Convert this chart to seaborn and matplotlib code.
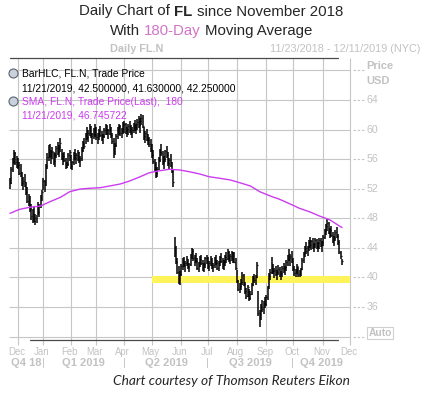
import matplotlib
matplotlib.use("Agg")
import matplotlib.pyplot as plt
from matplotlib.lines import Line2D
import numpy as np
import pandas as pd
import seaborn as sns

# NYSE closed days inside the chart window
holidays = ['2018-12-05', '2018-12-25', '2019-01-01', '2019-01-21', '2019-02-18',
            '2019-04-19', '2019-05-27', '2019-07-04', '2019-09-02', '2019-11-28']

# daily bars as (high, low, close), one list per month
bars_nov18 = [(53.5, 52.0, 52.8), (55.0, 52.6, 54.6), (56.2, 54.2, 55.9), (57.2, 55.4, 56.8),
              (56.9, 55.2, 55.6), (56.4, 54.8, 56.0)]
bars_dec18 = [(56.2, 54.6, 55.2), (55.6, 53.8, 54.1), (55.4, 53.6, 53.9), (54.2, 52.4, 52.8),
              (53.6, 51.8, 53.1), (54.0, 52.2, 52.5), (52.9, 51.2, 51.6), (52.2, 50.1, 50.4),
              (51.3, 49.6, 50.9), (51.0, 48.8, 49.2), (49.9, 47.8, 48.3), (49.2, 47.3, 48.6),
              (49.6, 47.5, 47.7), (48.6, 47.1, 48.1), (48.4, 47.4, 48.0), (50.2, 48.5, 48.9),
              (49.9, 48.2, 49.7), (51.2, 49.4, 50.8), (51.8, 50.4, 51.5)]
bars_jan19 = [(53.4, 51.8, 53.1), (53.2, 51.6, 52.0), (55.4, 52.4, 55.1), (56.8, 54.6, 56.3),
              (57.9, 55.8, 57.4), (58.0, 56.2, 56.6), (57.2, 55.4, 56.9), (57.6, 56.0, 57.1),
              (56.9, 55.2, 55.7), (56.8, 55.0, 56.5), (57.8, 56.1, 57.5), (58.3, 56.6, 57.0),
              (57.9, 56.3, 57.6), (58.8, 57.0, 58.2), (57.4, 55.9, 56.2), (56.8, 55.2, 56.4),
              (57.0, 55.6, 55.9), (56.1, 54.6, 55.0), (55.6, 54.8, 55.4), (56.8, 55.1, 56.5),
              (57.2, 55.8, 56.9)]
bars_feb19 = [(56.6, 54.6, 55.1), (55.8, 54.5, 55.6), (56.9, 55.2, 56.6), (57.4, 55.9, 56.2),
              (56.8, 55.3, 56.5), (57.3, 55.8, 57.0), (57.0, 55.5, 55.9), (56.4, 55.0, 56.1),
              (57.6, 55.8, 57.3), (58.4, 56.9, 58.1), (58.9, 57.4, 57.8), (59.6, 58.0, 59.3),
              (60.4, 58.6, 59.0), (59.9, 58.3, 59.6), (60.8, 59.1, 60.2), (60.5, 58.8, 59.1),
              (59.6, 58.0, 59.4), (60.2, 58.7, 59.8), (60.7, 59.0, 59.3)]
bars_mar19 = [(60.3, 58.6, 59.0), (59.5, 58.1, 59.2), (60.1, 58.6, 59.8), (60.5, 59.0, 59.3),
              (59.8, 58.4, 58.8), (59.4, 58.0, 59.1), (60.2, 58.8, 60.0), (60.8, 59.3, 60.4),
              (60.6, 59.2, 59.6), (60.1, 58.7, 59.9), (60.7, 59.2, 60.3), (60.4, 58.9, 59.2),
              (59.6, 58.0, 58.4), (58.9, 56.2, 56.8), (58.2, 56.5, 57.9), (59.4, 57.6, 59.1),
              (60.3, 58.7, 59.9), (60.8, 59.2, 60.5), (60.6, 59.1, 59.5), (60.2, 58.8, 60.0),
              (61.0, 59.4, 60.6)]
bars_apr19 = [(61.2, 59.6, 60.8), (60.9, 59.4, 59.9), (60.4, 59.0, 60.1), (60.8, 59.3, 60.5),
              (61.1, 59.6, 60.2), (60.6, 59.2, 59.7), (60.3, 58.9, 60.0), (60.9, 59.5, 60.6),
              (61.3, 59.8, 60.4), (60.8, 59.4, 60.7), (61.4, 59.9, 61.0), (61.8, 60.2, 60.6),
              (61.5, 59.6, 61.2), (62.1, 60.6, 61.6), (62.0, 60.2, 60.5), (60.3, 58.6, 59.1),
              (59.8, 58.2, 59.5), (60.1, 58.4, 58.7), (59.4, 57.9, 58.6), (59.0, 57.6, 58.1),
              (58.7, 56.9, 57.2)]
bars_may19 = [(58.0, 56.1, 56.5), (57.2, 55.4, 55.8), (56.0, 54.4, 54.8), (55.6, 53.4, 54.1),
              (55.0, 53.6, 54.6), (56.3, 54.5, 55.9), (57.4, 55.6, 57.0), (58.0, 56.4, 56.8),
              (57.1, 55.2, 55.6), (56.4, 54.6, 56.0), (57.3, 55.6, 57.1), (57.8, 56.2, 56.6),
              (56.9, 55.1, 55.5), (56.2, 54.6, 55.9), (56.7, 55.0, 55.3), (55.6, 54.1, 54.4),
              (54.6, 52.2, 52.9), (45.5, 42.8, 43.2), (44.2, 41.8, 42.1), (42.6, 40.4, 40.8),
              (41.6, 39.1, 39.6), (40.9, 39.0, 40.5)]
bars_jun19 = [(41.8, 40.2, 41.5), (42.6, 41.0, 42.3), (42.8, 41.4, 41.7), (42.2, 40.7, 42.0),
              (42.9, 41.5, 42.6), (42.5, 41.1, 41.4), (42.0, 40.7, 41.8), (43.2, 41.6, 42.9),
              (44.0, 42.5, 43.6), (43.8, 42.2, 42.6), (43.0, 41.5, 42.7), (43.3, 41.9, 42.2),
              (42.6, 41.0, 41.3), (42.1, 40.8, 41.9), (42.9, 41.4, 42.5), (43.1, 41.7, 42.0),
              (42.4, 40.9, 41.2), (42.0, 40.7, 41.8), (42.8, 41.3, 42.6), (43.1, 41.8, 42.3)]
bars_jul19 = [(42.8, 41.2, 41.6), (42.2, 40.9, 41.9), (42.9, 41.5, 42.6), (42.6, 41.1, 41.4),
              (42.0, 40.8, 41.7), (42.7, 41.3, 42.4), (43.1, 41.7, 42.0), (42.4, 41.0, 41.3),
              (42.2, 40.9, 42.0), (42.9, 41.5, 42.7), (43.3, 41.9, 42.2), (42.6, 41.2, 41.5),
              (42.3, 41.0, 42.1), (43.0, 41.6, 42.8), (43.4, 42.0, 42.5), (43.8, 42.3, 43.5),
              (43.6, 42.1, 42.4), (43.2, 41.8, 42.9), (43.6, 42.2, 43.3), (43.4, 41.9, 42.1),
              (43.4, 41.9, 42.1), (42.6, 41.0, 41.3)]
bars_aug19 = [(41.0, 39.2, 39.5), (39.7, 38.1, 38.5), (39.2, 37.9, 38.9), (39.8, 38.3, 39.4),
              (40.7, 39.0, 40.3), (40.5, 38.9, 39.1), (39.4, 37.8, 38.2), (38.6, 37.1, 37.5),
              (39.0, 37.4, 38.7), (38.5, 36.8, 37.2), (38.1, 36.9, 37.8), (39.3, 37.6, 39.0),
              (40.2, 38.8, 39.9), (40.5, 39.2, 39.6), (40.3, 39.0, 40.1), (42.1, 39.9, 41.7),
              (38.1, 34.8, 35.2), (35.6, 33.3, 34.0), (36.4, 34.2, 36.0), (37.0, 35.3, 35.7),
              (36.8, 35.0, 36.5), (37.3, 35.9, 36.4)]
bars_sep19 = [(37.6, 36.2, 37.3), (38.9, 37.0, 38.6), (40.6, 38.4, 40.2), (41.2, 39.6, 40.8),
              (42.7, 40.5, 41.9), (41.8, 40.4, 40.9), (41.3, 39.9, 41.0), (41.6, 40.2, 40.6),
              (41.0, 39.7, 40.8), (41.7, 40.3, 41.2), (41.4, 40.0, 40.4), (40.9, 39.7, 40.6),
              (41.5, 40.1, 41.3), (42.0, 40.6, 41.1), (41.6, 40.3, 41.4), (42.4, 40.9, 42.1),
              (43.1, 41.5, 42.8), (43.8, 42.2, 42.6), (43.2, 41.6, 42.9), (43.6, 42.0, 43.2)]
bars_oct19 = [(42.6, 40.9, 41.2), (41.5, 40.2, 40.6), (41.2, 40.0, 40.9), (41.8, 40.5, 41.5),
              (41.4, 40.1, 40.4), (41.0, 40.0, 40.7), (41.3, 40.2, 41.1), (42.6, 41.0, 42.3),
              (43.5, 42.0, 43.2), (44.3, 42.8, 44.0), (44.8, 43.2, 43.6), (44.2, 42.9, 44.1),
              (45.0, 43.6, 44.7), (45.5, 44.0, 44.4), (45.1, 43.7, 44.9), (45.3, 43.9, 44.2),
              (44.7, 43.4, 44.5), (45.4, 44.0, 45.1), (45.2, 43.8, 44.3), (44.8, 43.5, 44.6),
              (45.3, 43.9, 45.0), (45.4, 44.1, 44.4), (44.9, 43.4, 44.8)]
bars_nov19 = [(45.8, 44.3, 45.5), (46.6, 45.2, 46.3), (47.2, 45.8, 46.9), (47.9, 46.3, 47.4),
              (47.5, 45.9, 46.1), (46.7, 45.4, 46.4), (46.9, 45.5, 45.8), (46.2, 44.7, 45.1),
              (45.6, 44.2, 45.3), (46.4, 44.9, 46.1), (46.8, 45.3, 45.6), (45.9, 44.4, 44.8),
              (45.0, 43.2, 43.5), (43.6, 42.5, 42.9), (42.5, 41.63, 42.25)]

# 180-day SMA
sma_dates = ['2018-11-23', '2018-12-04', '2018-12-17', '2018-12-28', '2019-01-09', '2019-01-22',
             '2019-01-31', '2019-02-12', '2019-02-22', '2019-03-06', '2019-03-15', '2019-03-27',
             '2019-04-05', '2019-04-17', '2019-04-29', '2019-05-09', '2019-05-20', '2019-05-31',
             '2019-06-11', '2019-06-21', '2019-07-02', '2019-07-15', '2019-07-25', '2019-08-05',
             '2019-08-15', '2019-08-26', '2019-09-06', '2019-09-17', '2019-09-27', '2019-10-08',
             '2019-10-18', '2019-10-29', '2019-11-08', '2019-11-19', '2019-11-21']
sma_values = [48.67, 49.2, 49.5, 49.66, 50.24, 50.84, 51.6, 51.96, 52.06, 52.14, 52.37, 52.64,
              53.04, 53.62, 54.17, 54.44, 54.63, 54.53, 54.3, 53.99, 53.62, 53.41, 53.18, 52.81,
              52.37, 51.6, 51.01, 50.57, 49.93, 49.35, 48.85, 48.31, 47.77, 46.96, 46.75]

band_start, band_end = '2019-05-01', '2019-12-02'
band_low, band_high = 39.25, 40.2

price_ticks = [32, 36, 40, 44, 48, 52, 56, 60, 64, 68]
month_names = ['Dec', 'Jan', 'Feb', 'Mar', 'Apr', 'May', 'Jun', 'Jul', 'Aug', 'Sep', 'Oct', 'Nov', 'Dec']
quarter_names = ['Q4 18', 'Q1 2019', 'Q2 2019', 'Q3 2019', 'Q4 2019']
quarter_bounds = ['2018-11-23', '2019-01-02', '2019-04-01', '2019-07-01', '2019-10-01', '2019-12-02']

W, H = 422, 396
GRID = '#c6c6c6'
TXT = '#c2c2c2'
SMA_COL = '#cc3cf0'

sns.set_style("white")
plt.rcParams['font.family'] = ['Liberation Sans', 'DejaVu Sans']

# trading-day axis (Eikon skips weekends and holidays)
days = pd.bdate_range('2018-11-23', '2019-12-31', freq='C', holidays=holidays)
pos = pd.Series(np.arange(len(days)), index=days)

bars = (bars_nov18 + bars_dec18 + bars_jan19 + bars_feb19 + bars_mar19 + bars_apr19 + bars_may19
        + bars_jun19 + bars_jul19 + bars_aug19 + bars_sep19 + bars_oct19 + bars_nov19)
df = pd.DataFrame(bars, columns=['high', 'low', 'close'])
df['i'] = np.arange(len(df))

sma = pd.DataFrame({'i': pos[pd.to_datetime(sma_dates)].values, 'sma': sma_values})

month_first = days.to_series().groupby(days.to_period('M')).first()
month_first = month_first[month_first >= pd.Timestamp('2018-12-01')].iloc[:13]
month_idx = pos[month_first.values].values

fig = plt.figure(figsize=(W / 100, H / 100), dpi=100)
ax = fig.add_axes([9 / W, 1 - 340 / H, 342 / W, 282 / H])
ax.set_xlim(-0.75, 256.75)
ax.set_ylim(31.54, 69.68)
ax.set_axis_off()

# grid
ax.hlines(price_ticks, 0, 1, transform=ax.get_yaxis_transform(), color=GRID, lw=0.8, zorder=0.5)
ax.vlines(month_idx, -0.018, 1, transform=ax.get_xaxis_transform(), color=GRID, lw=0.8,
          zorder=0.5, clip_on=False)

# support band
ax.fill_between([pos[band_start], pos[band_end]], band_low, band_high, color='#fff35a', lw=0, zorder=1)

# HLC bars
ax.vlines(df['i'], df['low'], df['high'], color='black', lw=1.1, zorder=3)
ax.hlines(df['close'], df['i'], df['i'] + 0.6, color='black', lw=0.9, zorder=3)

# moving average
sns.lineplot(data=sma, x='i', y='sma', ax=ax, color=SMA_COL, lw=1.0, zorder=4)

# right price scale
for v in price_ticks:
    ax.plot([1.006, 1.042], [v, v], transform=ax.get_yaxis_transform(), color=GRID, lw=0.8,
            ls=(0, (2.2, 1.6)), clip_on=False)
    if 36 <= v <= 64:
        ax.text(1.045, v, str(v), transform=ax.get_yaxis_transform(), ha='left', va='center',
                fontsize=7.6, color=TXT)
fig.text(366 / W, 1 - 66 / H, 'Price', fontsize=8, fontweight='bold', color=TXT, va='center')
fig.text(366 / W, 1 - 81 / H, 'USD', fontsize=8, fontweight='bold', color=TXT, va='center')
fig.text(380 / W, 1 - 333 / H, 'Auto', fontsize=7.4, fontweight='bold', color=TXT, ha='center',
         va='center', bbox=dict(boxstyle='square,pad=0.12', fc='white', ec='#d0d0d0', lw=0.8))

# time axis labels
xt = ax.get_xaxis_transform()
for idx, name in zip(month_idx, month_names):
    ax.text(idx - 1, -0.041, name, transform=xt, ha='center', va='center', fontsize=6.9, color=TXT)
qb = pos[pd.to_datetime(quarter_bounds)].values
for k, name in enumerate(quarter_names):
    ax.text((qb[k] + qb[k + 1]) / 2, -0.082, name, transform=xt, ha='center', va='center',
            fontsize=8, fontweight='bold', color=TXT)
for b in qb[1:-1]:
    ax.text(b, -0.082, '|', transform=xt, ha='center', va='center', fontsize=8, color=TXT)

# frame lines above and below the plot
fig.add_artist(Line2D([10 / W, 338 / W], [1 - 58 / H] * 2, transform=fig.transFigure, color='#4a4a4a', lw=0.9))
fig.add_artist(Line2D([30 / W, 338 / W], [1 - 340 / H] * 2, transform=fig.transFigure, color='#4a4a4a', lw=0.9))

# header
fig.text(110 / W, 1 - 49 / H, 'Daily FL.N', fontsize=7.8, fontweight='bold', color=TXT, va='center')
fig.text(420 / W, 1 - 49 / H, '11/23/2018 - 12/11/2019 (NYC)', fontsize=7.8, color=TXT,
         ha='right', va='center')

# legend block
for yy in (73, 101):
    fig.add_artist(Line2D([13.5 / W], [1 - yy / H], marker='o', markersize=6.5, mfc='#c9d2dc',
                          mec='#5a6470', mew=0.8, transform=fig.transFigure))
fig.text(21.5 / W, 1 - 74 / H, 'BarHLC, FL.N, Trade Price', fontsize=7.4, color='black', va='center')
fig.text(22.5 / W, 1 - 88.5 / H, '11/21/2019, 42.500000, 41.630000, 42.250000', fontsize=7.4,
         color='black', va='center')
fig.text(21.5 / W, 1 - 102 / H, 'SMA, FL.N, Trade Price(Last),  180', fontsize=7.4, color=SMA_COL,
         va='center')
fig.text(22.5 / W, 1 - 116 / H, '11/21/2019, 46.745722', fontsize=7.4, color=SMA_COL, va='center')


def centered_line(y_px, parts, size):
    r = fig.canvas.get_renderer()
    a = fig.text(0, 0, 'a a', fontsize=size)
    b = fig.text(0, 0, 'aa', fontsize=size)
    gap = a.get_window_extent(r).width - b.get_window_extent(r).width
    a.remove()
    b.remove()
    texts = [fig.text(0, 1 - y_px / H, s, fontsize=size, va='center', **kw) for s, kw in parts]
    widths = [t.get_window_extent(r).width for t in texts]
    x = W / 2 - (sum(widths) + gap * (len(parts) - 1)) / 2
    for t, w in zip(texts, widths):
        t.set_x(x / W)
        x += w + gap


centered_line(11.5, [('Daily Chart of', {}), ('FL', {'fontweight': 'bold'}),
                     ('since November 2018', {})], 10.8)
centered_line(31, [('With', {}), ('180-Day', {'color': '#d274c8'}), ('Moving Average', {})], 10.8)

fig.text(231 / W, 1 - 381 / H, 'Chart courtesy of Thomson Reuters Eikon', fontsize=9.9,
         family=['Lato', 'DejaVu Sans'], style='italic', ha='center', va='center')

fig.savefig('out.png', dpi=100)
